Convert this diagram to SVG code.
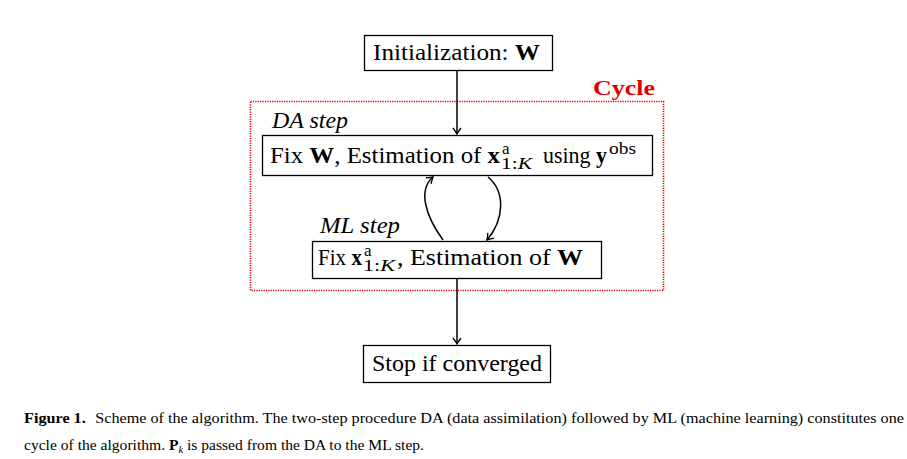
<svg xmlns="http://www.w3.org/2000/svg" width="907" height="459" viewBox="0 0 907 459">
<style>
.box{fill:#fff;stroke:#000;stroke-width:1.3}
.t{font-family:"Liberation Serif",serif;font-size:23px;fill:#000}
.it{font-style:italic}
.b{font-weight:bold}
.sm{font-size:17px}
.con{fill:none;stroke:#000;stroke-width:1.5}
.cap{font-family:"Liberation Serif",serif;font-size:15px;fill:#000}
</style>
<defs>
<marker id="ah" viewBox="-8 -6 10 12" markerWidth="10" markerHeight="12" refX="0" refY="0" orient="auto" markerUnits="userSpaceOnUse">
<path d="M -6 -4 Q -2 -1 0 0 Q -2 1 -6 4" fill="none" stroke="#000" stroke-width="1.3"/>
</marker>
</defs>
<rect x="250.5" y="101.5" width="413" height="189" fill="none" stroke="#e00000" stroke-width="1.6" stroke-dasharray="1.2 1.2"/>
<text x="593" y="95" class="t b" style="font-size:20px;fill:#e00000" textLength="62" lengthAdjust="spacingAndGlyphs">Cycle</text>
<g id="connectors">
<line class="con" x1="457" y1="71" x2="457" y2="134" marker-end="url(#ah)"/>
<line class="con" x1="457" y1="279" x2="457" y2="344" marker-end="url(#ah)"/>
<path class="con" d="M 443 240 C 425 215 418 190 433 177" marker-end="url(#ah)"/>
<path class="con" d="M 488 177 C 506 192 504 220 487 240" marker-end="url(#ah)"/>
</g>
<g id="init">
<rect class="box" x="364.5" y="35.5" width="188" height="35"/>
<text class="t" x="373" y="59.5" textLength="167" lengthAdjust="spacingAndGlyphs">Initialization: <tspan class="b">W</tspan></text>
</g>
<g id="da">
<text class="t it" x="272" y="128" textLength="76" lengthAdjust="spacingAndGlyphs">DA step</text>
<rect class="box" x="262.5" y="135.5" width="390" height="40"/>
<text class="t" x="270" y="163" textLength="230" lengthAdjust="spacingAndGlyphs">Fix <tspan class="b">W</tspan>, Estimation of <tspan class="b">x</tspan></text>
<text class="t sm" x="502" y="154">a</text>
<text class="t sm" x="501" y="169" textLength="31" lengthAdjust="spacingAndGlyphs">1:<tspan class="it">K</tspan></text>
<text class="t" x="543" y="163" textLength="64" lengthAdjust="spacingAndGlyphs">using <tspan class="b">y</tspan></text>
<text class="t sm" x="609" y="154" textLength="27" lengthAdjust="spacingAndGlyphs">obs</text>
</g>
<g id="ml">
<text class="t it" x="320" y="233" textLength="80" lengthAdjust="spacingAndGlyphs">ML step</text>
<rect class="box" x="312.5" y="241.5" width="289" height="37"/>
<text class="t" x="318" y="265" textLength="44" lengthAdjust="spacingAndGlyphs">Fix <tspan class="b">x</tspan></text>
<text class="t sm" x="364" y="256">a</text>
<text class="t sm" x="363" y="271" textLength="32" lengthAdjust="spacingAndGlyphs">1:<tspan class="it">K</tspan></text>
<text class="t" x="397" y="265" textLength="186" lengthAdjust="spacingAndGlyphs">, Estimation of <tspan class="b">W</tspan></text>
</g>
<g id="stop">
<rect class="box" x="363.5" y="345.5" width="187" height="37"/>
<text class="t" x="372" y="371" textLength="170" lengthAdjust="spacingAndGlyphs">Stop if converged</text>
</g>
<text class="cap" x="24" y="423" textLength="880" lengthAdjust="spacingAndGlyphs"><tspan class="b">Figure 1.</tspan><tspan dx="5"> Scheme of the algorithm. The two-step procedure DA (data assimilation) followed by ML (machine learning) constitutes one</tspan></text>
<text class="cap" x="24" y="450" textLength="400" lengthAdjust="spacingAndGlyphs">cycle of the algorithm. <tspan class="b">P</tspan><tspan style="font-size:10px;font-style:italic" dy="3">k</tspan><tspan dy="-3"> is passed from the DA to the ML step.</tspan></text>
</svg>
